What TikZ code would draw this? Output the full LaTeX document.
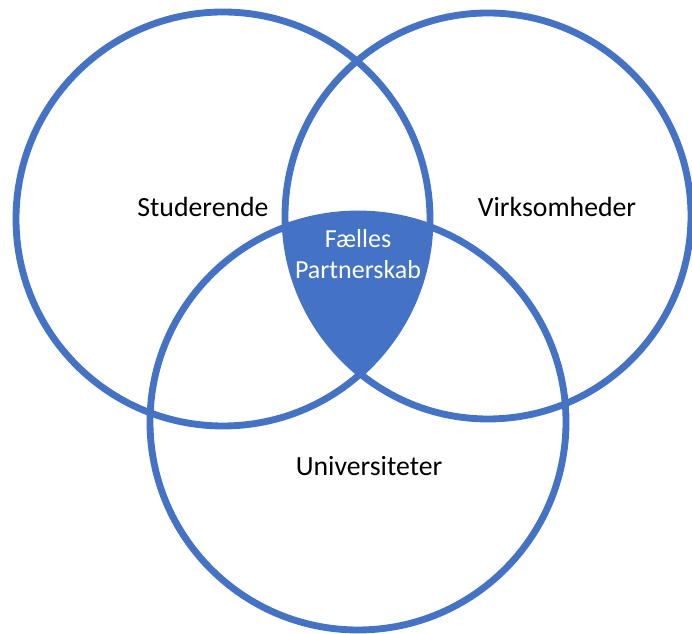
\documentclass[tikz,border=0pt]{standalone}
\usepackage{fontspec}
\setmainfont{Carlito}

\definecolor{vennblue}{HTML}{4472C4}

\begin{document}
\begin{tikzpicture}[x=0.02cm, y=0.02cm, ring/.style={draw=vennblue, line width=3.9pt}, every node/.style={font=\fontsize{15.8}{18.5}\selectfont, inner sep=1pt, align=center}]
        \useasboundingbox (0,0) rectangle (692,634);
        \coordinate (stud) at (223,415);
        \coordinate (virk) at (488,418);
        \coordinate (univ) at (358,212);

        % shared partnership area
        \begin{scope}
            \clip (stud) circle (207);
            \clip (virk) circle (203);
            \fill[vennblue] (univ) circle (208);
        \end{scope}

        \draw[ring] (stud) circle (207);
        \draw[ring] (virk) circle (203);
        \draw[ring] (univ) circle (208);

        \node (studerende) at (203,427) {Studerende};
        \node (virksomheder) at (557,427) {Virksomheder};
        \node (universiteter) at (369,168) {Universiteter};
        \node (faelles) [text=white, font=\fontsize{14.8}{18}\selectfont] at (358,380) {Fælles\\Partnerskab};
    \end{tikzpicture}
\end{document}
